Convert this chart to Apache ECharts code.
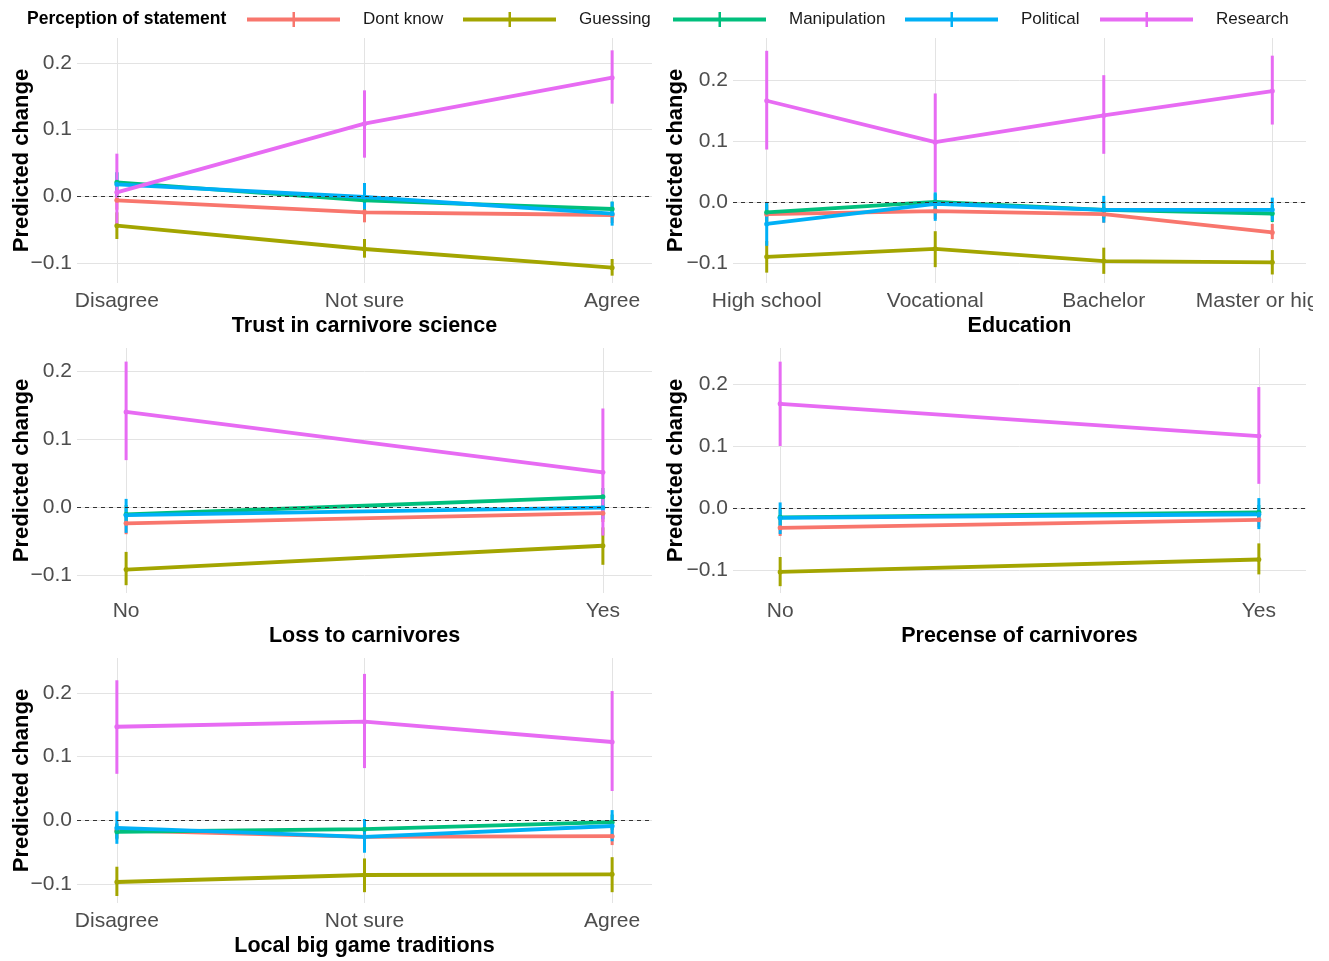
<!DOCTYPE html>
<html><head><meta charset="utf-8">
<script src="https://cdn.jsdelivr.net/npm/echarts@6/dist/echarts.min.js"></script>
<style>html,body{margin:0;padding:0;background:#fff;} #c{width:1313px;height:961px;}</style>
</head><body><div id="c"></div>
<script>
// ---------- DATA ----------
const groups = ['Dont know', 'Guessing', 'Manipulation', 'Political', 'Research'];
const yTicks = [-0.1, 0, 0.1, 0.2];

// Panel 1: Trust in carnivore science (rows follow `groups`)
const trustCats = ['Disagree', 'Not sure', 'Agree'];
const trustEst = [
  [-0.006, -0.024, -0.028],
  [-0.044, -0.079, -0.107],
  [0.021, -0.006, -0.019],
  [0.018, -0.001, -0.026],
  [0.006, 0.109, 0.178]
];
const trustLo = [
  [-0.020, -0.039, -0.040],
  [-0.064, -0.092, -0.119],
  [0.006, -0.020, -0.030],
  [0.000, -0.019, -0.044],
  [-0.042, 0.058, 0.139]
];
const trustHi = [
  [0.008, -0.009, -0.016],
  [-0.024, -0.064, -0.094],
  [0.036, 0.008, -0.008],
  [0.036, 0.020, -0.008],
  [0.064, 0.159, 0.219]
];

// Panel 2: Education
const eduCats = ['High school', 'Vocational', 'Bachelor', 'Master or higher'];
const eduEst = [
  [-0.020, -0.015, -0.020, -0.050],
  [-0.090, -0.077, -0.097, -0.099],
  [-0.017, 0.000, -0.013, -0.019],
  [-0.036, -0.003, -0.013, -0.013],
  [0.166, 0.098, 0.142, 0.182]
];
const eduLo = [
  [-0.035, -0.028, -0.034, -0.061],
  [-0.116, -0.107, -0.118, -0.119],
  [-0.032, -0.014, -0.027, -0.033],
  [-0.072, -0.031, -0.034, -0.031],
  [0.086, 0.016, 0.079, 0.127]
];
const eduHi = [
  [-0.005, -0.002, -0.006, -0.036],
  [-0.064, -0.048, -0.075, -0.079],
  [-0.002, 0.014, 0.001, -0.005],
  [0.000, 0.016, 0.010, 0.007],
  [0.248, 0.178, 0.208, 0.240]
];

// Panel 3: Loss to carnivores
const lossCats = ['No', 'Yes'];
const lossEst = [
  [-0.024, -0.009],
  [-0.092, -0.057],
  [-0.011, 0.015],
  [-0.012, -0.001],
  [0.140, 0.051]
];
const lossLo = [
  [-0.040, -0.022],
  [-0.115, -0.085],
  [-0.025, 0.002],
  [-0.038, -0.018],
  [0.069, -0.042]
];
const lossHi = [
  [-0.008, 0.004],
  [-0.066, -0.030],
  [0.003, 0.028],
  [0.012, 0.016],
  [0.214, 0.145]
];

// Panel 4: Precense of carnivores
const presCats = ['No', 'Yes'];
const presEst = [
  [-0.032, -0.019],
  [-0.103, -0.083],
  [-0.015, -0.007],
  [-0.016, -0.010],
  [0.168, 0.116]
];
const presLo = [
  [-0.045, -0.031],
  [-0.126, -0.107],
  [-0.028, -0.019],
  [-0.042, -0.034],
  [0.100, 0.039]
];
const presHi = [
  [-0.019, -0.007],
  [-0.079, -0.057],
  [-0.002, 0.005],
  [0.009, 0.016],
  [0.236, 0.195]
];

// Panel 5: Local big game traditions
const tradCats = ['Disagree', 'Not sure', 'Agree'];
const tradEst = [
  [-0.016, -0.026, -0.025],
  [-0.097, -0.086, -0.085],
  [-0.018, -0.014, -0.003],
  [-0.012, -0.026, -0.009],
  [0.147, 0.155, 0.123]
];
const tradLo = [
  [-0.028, -0.039, -0.039],
  [-0.119, -0.113, -0.113],
  [-0.030, -0.027, -0.015],
  [-0.037, -0.051, -0.033],
  [0.073, 0.082, 0.046]
];
const tradHi = [
  [-0.004, -0.013, -0.011],
  [-0.073, -0.060, -0.058],
  [-0.006, -0.001, 0.009],
  [0.014, 0.002, 0.016],
  [0.220, 0.230, 0.203]
];

// ---------- STYLE / LAYOUT ----------
const colors = ['#F8766D', '#A3A500', '#00BF7D', '#00B0F6', '#E76BF3'];
const FONT = '"Liberation Sans", Arial, sans-serif';
const panels = [
  {cats: trustCats, est: trustEst, lo: trustLo, hi: trustHi, title: 'Trust in carnivore science',
   left: 77, top: 38, width: 575, height: 245, pad: 0.161, ymin: -0.130, ymax: 0.2375, yGap: 44},
  {cats: eduCats, est: eduEst, lo: eduLo, hi: eduHi, title: 'Education',
   left: 733, top: 38, width: 573, height: 245, pad: 0.2, ymin: -0.133, ymax: 0.269, yGap: 46},
  {cats: lossCats, est: lossEst, lo: lossLo, hi: lossHi, title: 'Loss to carnivores',
   left: 77, top: 348, width: 575, height: 245, pad: 0.103, ymin: -0.1265, ymax: 0.234, yGap: 44},
  {cats: presCats, est: presEst, lo: presLo, hi: presHi, title: 'Precense of carnivores',
   left: 733, top: 348, width: 573, height: 245, pad: 0.0985, ymin: -0.137, ymax: 0.258, yGap: 46},
  {cats: tradCats, est: tradEst, lo: tradLo, hi: tradHi, title: 'Local big game traditions',
   left: 77, top: 658, width: 575, height: 245, pad: 0.161, ymin: -0.130, ymax: 0.255, yGap: 44}
];
const legendLefts = [247, 463, 673, 905, 1100];

function fmtY(v) {
  const r = Math.round(v * 10) / 10;
  if (r < 0) return '\u2212' + Math.abs(r).toFixed(1);
  return Math.abs(r).toFixed(1);
}

const grid = [], xAxis = [], yAxis = [], series = [];
panels.forEach((p, i) => {
  const idx = p.cats.map((c, k) => k);
  grid.push({left: p.left, top: p.top, width: p.width, height: p.height,
             containLabel: false, outerBoundsMode: 'none'});
  xAxis.push({
    type: 'value', gridIndex: i, min: -p.pad, max: p.cats.length - 1 + p.pad,
    name: p.title, nameLocation: 'middle', nameGap: 32, nameMoveOverlap: false,
    nameTextStyle: {fontFamily: FONT, fontWeight: 'bold', fontSize: 21.5, color: '#000'},
    axisLine: {show: false},
    axisTick: {show: false, customValues: idx},
    axisLabel: {customValues: idx, formatter: v => p.cats[Math.round(v)],
                color: '#4D4D4D', fontSize: 21, fontFamily: FONT, margin: 8},
    splitLine: {show: true, customValues: idx, lineStyle: {color: '#E3E3E3', width: 1}}
  });
  yAxis.push({
    type: 'value', gridIndex: i, min: p.ymin, max: p.ymax,
    name: 'Predicted change', nameLocation: 'middle', nameGap: p.yGap, nameRotate: 90,
    nameMoveOverlap: false,
    nameTextStyle: {fontFamily: FONT, fontWeight: 'bold', fontSize: 22, color: '#000'},
    axisLine: {show: false},
    axisTick: {show: false, customValues: yTicks},
    axisLabel: {customValues: yTicks, formatter: fmtY,
                color: '#4D4D4D', fontSize: 21, fontFamily: FONT, margin: 5},
    splitLine: {show: true, customValues: yTicks, lineStyle: {color: '#E3E3E3', width: 1}}
  });
  groups.forEach((g, gi) => {
    const col = colors[gi];
    series.push({
      type: 'custom', name: g, xAxisIndex: i, yAxisIndex: i,
      data: p.cats.map((c, k) => [k, p.lo[gi][k], p.hi[gi][k]]),
      encode: {x: 0, y: [1, 2]},
      itemStyle: {color: col},
      renderItem: (params, api) => {
        const a = api.coord([api.value(0), api.value(1)]);
        const b = api.coord([api.value(0), api.value(2)]);
        return {type: 'line', shape: {x1: a[0], y1: a[1], x2: b[0], y2: b[1]},
                style: {stroke: col, lineWidth: 3}};
      },
      z: 3
    });
    const s = {
      type: 'line', name: g, xAxisIndex: i, yAxisIndex: i,
      data: p.est[gi].map((v, k) => [k, v]),
      itemStyle: {color: col},
      lineStyle: {color: col, width: 3.8},
      symbol: 'circle', symbolSize: 5, showSymbol: true,
      z: 3
    };
    if (gi === 0) {
      s.markLine = {silent: true, symbol: 'none', data: [{yAxis: 0}],
        label: {show: false},
        lineStyle: {type: [4, 4], color: '#333', width: 1}};
    }
    series.push(s);
  });
});

const legend = groups.map((g, i) => ({
  data: [g], left: legendLefts[i], top: 11, padding: 0,
  itemWidth: 93, itemHeight: 15, itemGap: 0, selectedMode: false,
  icon: 'path://M0,5.5H93V9.5H0Z M45.5,0H48V15H45.5Z',
  itemStyle: {borderWidth: 0, color: colors[i]},
  textStyle: {fontSize: 17, color: '#1A1A1A', fontFamily: FONT, padding: [0, 0, 0, 18]}
}));

const chart = echarts.init(document.getElementById('c'), null, {renderer: 'canvas'});
chart.setOption({
  animation: false,
  backgroundColor: '#fff',
  grid, xAxis, yAxis, series, legend,
  graphic: [{type: 'text', x: 27, y: 19,
    style: {text: 'Perception of statement', fontSize: 17.5, fontWeight: 'bold',
            fontFamily: FONT, fill: '#000', verticalAlign: 'middle'}}]
});
</script>
</body></html>
